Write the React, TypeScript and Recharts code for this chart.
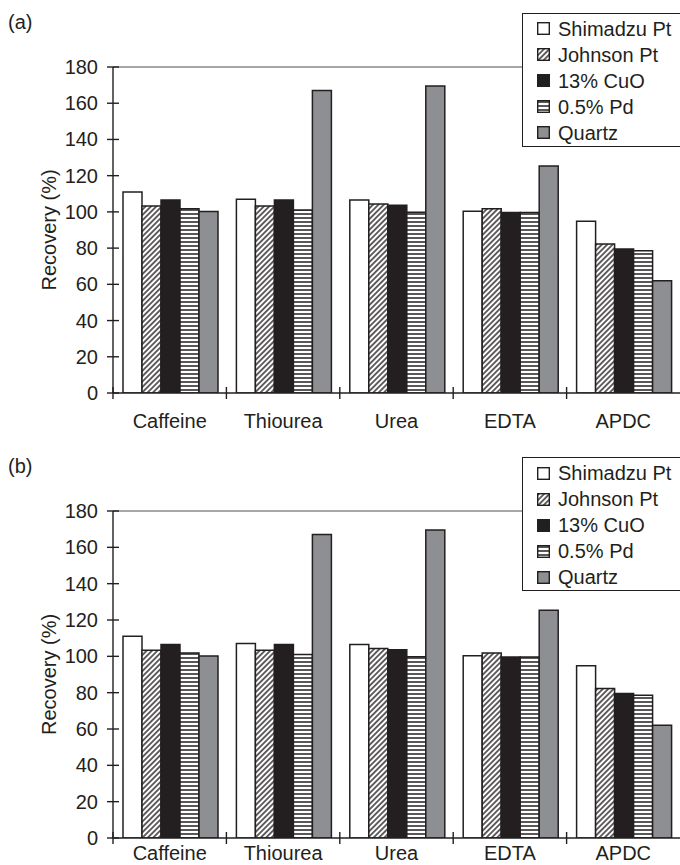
import React from 'react';
import { BarChart, Bar, XAxis, YAxis, ReferenceLine, Legend } from 'recharts';

// ---- data ----
const categories = ['Caffeine', 'Thiourea', 'Urea', 'EDTA', 'APDC'];
const shimadzuPt = [111.0, 107.0, 106.5, 100.3, 94.8];
const johnsonPt = [103.3, 103.3, 104.3, 101.8, 82.3];
const cuO13 = [106.5, 106.5, 103.6, 99.6, 79.5];
const pd05 = [101.8, 101.0, 99.8, 99.6, 78.6];
const quartz = [100.2, 167.0, 169.5, 125.3, 62.0];
const seriesNames = ['Shimadzu Pt', 'Johnson Pt', '13% CuO', '0.5% Pd', 'Quartz'];
const yTicks = [0, 20, 40, 60, 80, 100, 120, 140, 160, 180];

const data = categories.map((name, i) => ({
  name,
  s0: shimadzuPt[i],
  s1: johnsonPt[i],
  s2: cuO13[i],
  s3: pd05[i],
  s4: quartz[i],
}));

// ---- style ----
const INK = '#231f20';
const GREY = '#8e8f92';
const FONT = '"Liberation Sans", Arial, Helvetica, sans-serif';
const FS = 20;
const fills = ['#ffffff', 'url(#hatchDiag)', INK, 'url(#hatchHoriz)', GREY];
const keys = ['s0', 's1', 's2', 's3', 's4'];

const W = 680;
const AXIS_X = 113;
const YAXIS_W = 80;

const YTick = (props: any) => {
  const { x, y, payload } = props;
  return (
    <g>
      <path d={`M${x - 6},${y}H${x + 6}`} stroke={INK} strokeWidth={1.4} fill="none" />
      <text x={x - 15} y={y + 7} textAnchor="end" fontSize={FS} fontFamily={FONT} fill={INK}>
        {payload.value}
      </text>
    </g>
  );
};

const XTick = (props: any) => {
  const { x, y, payload, bw, labelBaseline } = props;
  const bx = x - bw / 2;
  return (
    <g>
      <path d={`M${bx},${y - 6}V${y + 6}`} stroke={INK} strokeWidth={1.4} fill="none" />
      <text x={x} y={y + labelBaseline} textAnchor="middle" fontSize={FS} fontFamily={FONT} fill={INK}>
        {payload.value}
      </text>
    </g>
  );
};

const LegendBox = (props: any) => {
  const payload = [...(props.payload || [])].sort(
    (a: any, b: any) => keys.indexOf(a.dataKey) - keys.indexOf(b.dataKey)
  );
  return (
    <div
      style={{
        border: `1.3px solid ${INK}`,
        background: '#fff',
        width: 170,
        height: 134,
        boxSizing: 'border-box',
        paddingTop: 2,
        fontFamily: FONT,
        fontSize: FS,
        color: INK,
      }}
    >
      {payload.map((p: any, i: number) => {
        const idx = keys.indexOf(p.dataKey);
        const f = fills[idx >= 0 ? idx : i];
        return (
          <div key={i} style={{ display: 'flex', alignItems: 'center', height: 26, lineHeight: '26px' }}>
            <svg width={13} height={13} style={{ marginLeft: 14, marginRight: 8, display: 'block' }}>
              <rect x={0.7} y={0.7} width={11.6} height={11.6} fill={f} stroke={INK} strokeWidth={1.4} />
            </svg>
            <span>{p.value}</span>
          </div>
        );
      })}
    </div>
  );
};

type PanelProps = {
  tag: string;
  height: number;
  plotTop: number;
  plotBottom: number;
  labelBaseline: number;
  legendTop: number;
};

const Panel = ({ tag, height, plotTop, plotBottom, labelBaseline, legendTop }: PanelProps) => {
  const bw = (W - AXIS_X) / categories.length;
  const midY = (plotTop + plotBottom) / 2;
  return (
    <BarChart
      width={W}
      height={height}
      data={data}
      margin={{ top: plotTop, right: 0, left: AXIS_X - YAXIS_W, bottom: 0 }}
      barCategoryGap={10}
      barGap={0}
    >
      <XAxis
        dataKey="name"
        height={height - plotBottom}
        tickSize={0}
        tickMargin={0}
        tickLine={false}
        interval={0}
        axisLine={{ stroke: INK, strokeWidth: 1.4 }}
        tick={(p: any) => <XTick {...p} bw={bw} labelBaseline={labelBaseline} />}
      />
      <YAxis
        width={YAXIS_W}
        domain={[0, 180]}
        ticks={yTicks}
        allowDataOverflow
        tickSize={0}
        tickMargin={0}
        tickLine={false}
        interval={0}
        axisLine={{ stroke: INK, strokeWidth: 1.4 }}
        tick={(p: any) => <YTick {...p} />}
      />
      <ReferenceLine y={180} stroke="#8a8a8a" strokeWidth={1.3} />
      {keys.map((k, i) => (
        <Bar
          key={k}
          dataKey={k}
          name={seriesNames[i]}
          fill={fills[i]}
          stroke={INK}
          strokeWidth={1.5}
          isAnimationActive={false}
        />
      ))}
      <Legend
        layout="vertical"
        align="center"
        verticalAlign="middle"
        width={170}
        height={134}
        content={(p: any) => <LegendBox {...p} />}
        wrapperStyle={{ position: 'absolute', top: legendTop, left: 522, width: 170, height: 134 }}
      />
      <text x={8} y={plotTop - 38} fontSize={FS} fontFamily={FONT} fill={INK}>
        {tag}
      </text>
      <text
        x={56}
        y={midY}
        transform={`rotate(-90, 56, ${midY})`}
        textAnchor="middle"
        fontSize={FS}
        fontFamily={FONT}
        fill={INK}
      >
        Recovery (%)
      </text>
    </BarChart>
  );
};

export default function App() {
  return (
    <div
      style={{
        position: 'absolute',
        top: 0,
        left: 0,
        width: 680,
        height: 865,
        overflow: 'hidden',
        background: '#fff',
        fontFamily: FONT,
      }}
    >
      <svg width={0} height={0} style={{ position: 'absolute' }}>
        <defs>
          <pattern id="hatchDiag" patternUnits="userSpaceOnUse" width={3.8} height={3.8} patternTransform="rotate(45)">
            <rect width={3.8} height={3.8} fill="#fff" />
            <line x1={1.9} y1={0} x2={1.9} y2={3.8} stroke={INK} strokeWidth={1.4} />
          </pattern>
          <pattern id="hatchHoriz" patternUnits="userSpaceOnUse" width={8} height={4}>
            <rect width={8} height={4} fill="#fff" />
            <line x1={0} y1={2} x2={8} y2={2} stroke={INK} strokeWidth={1.5} />
          </pattern>
        </defs>
      </svg>
      <Panel tag="(a)" height={440} plotTop={67} plotBottom={393} labelBaseline={35} legendTop={12.7} />
      <Panel tag="(b)" height={425} plotTop={71} plotBottom={398} labelBaseline={22} legendTop={17} />
    </div>
  );
}
